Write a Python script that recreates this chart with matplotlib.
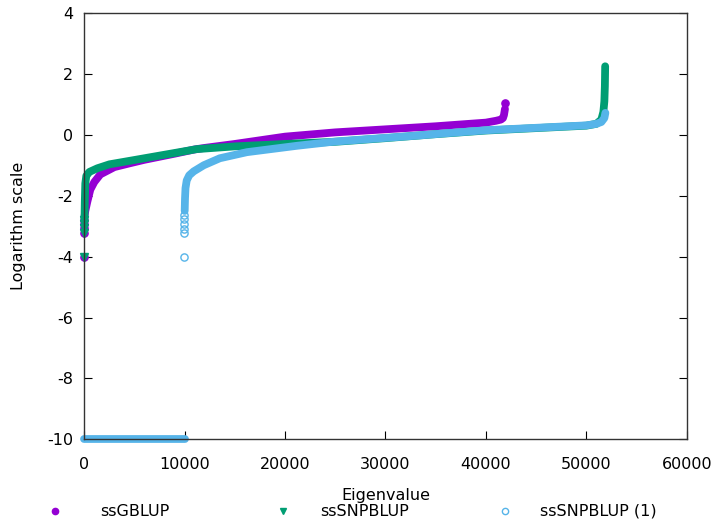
import matplotlib
matplotlib.use('Agg')
import matplotlib.pyplot as plt
from matplotlib.lines import Line2D

# farbet (gnuplot oletukset)
c_gb = '#9400d3'
c_sn = '#009e73'
c_s1 = '#56b4e9'

# ssGBLUP: pienimmat yksittaiset pisteet + jatkuva osa
gb_pts_x = [20, 20, 20, 20, 20, 41950]
gb_pts_y = [-4.0, -3.22, -3.07, -2.92, -2.8, 1.05]
gb_x = [20, 100, 300, 600, 1000, 1600, 3000, 4600, 6000, 9000, 11000, 12000, 15000,
        20000, 25000, 30000, 33000, 35000, 40000, 41000, 41500, 41700, 41800, 41900]
gb_y = [-2.7, -2.5, -2.2, -1.8, -1.55, -1.3, -1.06, -0.93, -0.82, -0.62, -0.48, -0.43, -0.3,
        -0.06, 0.08, 0.18, 0.24, 0.28, 0.4, 0.46, 0.5, 0.55, 0.65, 0.85]

# ssSNPBLUP
sn_pts_x = [20, 20, 20, 20, 20]
sn_pts_y = [-4.0, -3.22, -3.07, -2.92, -2.8]
sn_x = [20, 50, 100, 200, 500, 1300, 2500, 4600, 7900, 11200, 15000, 20000, 25000,
        30000, 35000, 40000, 45000, 50000, 51000, 51500, 51700, 51800, 51850, 51880]
sn_y = [-2.8, -2.2, -1.6, -1.35, -1.22, -1.1, -0.97, -0.85, -0.66, -0.47, -0.38, -0.3, -0.23,
        -0.11, 0.02, 0.14, 0.22, 0.3, 0.36, 0.5, 0.75, 1.1, 1.6, 2.25]

# ssSNPBLUP (1): nollat (-10), yksittaiset pisteet, jatkuva osa
s1_zero_x = [0, 10000]
s1_zero_y = [-10, -10]
s1_pts_x = [9980, 9980, 9980, 9980, 9980, 9980]
s1_pts_y = [-4.0, -3.24, -3.08, -2.93, -2.77, -2.62]
s1_x = [10000, 10030, 10080, 10200, 10450, 10900, 11900, 13500, 16200, 21200, 25000,
        30000, 33000, 36000, 40000, 45000, 50000, 51000, 51500, 51800, 51900]
s1_y = [-2.5, -2.1, -1.75, -1.5, -1.33, -1.2, -1.0, -0.77, -0.57, -0.36, -0.22,
        -0.1, -0.03, 0.05, 0.15, 0.23, 0.31, 0.36, 0.42, 0.55, 0.72]

xtiks = [0, 10000, 20000, 30000, 40000, 50000, 60000]
ytiks = [-10, -8, -6, -4, -2, 0, 2, 4]

plt.rcParams['font.family'] = ['DejaVu Sans']
plt.rcParams['font.size'] = 11.5
plt.rcParams['axes.unicode_minus'] = False

fig = plt.figure(figsize=(7.18, 5.22), dpi=100)
ax = fig.add_axes((0.1174, 0.1584, 0.839, 0.8167))

lw = 5.6
ms = 5.2
viiva = dict(lw=lw, solid_capstyle='round', solid_joinstyle='round', clip_on=False)

ax.plot(gb_x, gb_y, color=c_gb, **viiva)
ax.plot(gb_pts_x, gb_pts_y, 'o', color=c_gb, ms=ms, clip_on=False)
ax.plot(sn_x, sn_y, color=c_sn, **viiva)
ax.plot(sn_pts_x, sn_pts_y, 'v', color=c_sn, ms=ms, clip_on=False)
ax.plot(s1_zero_x, s1_zero_y, color=c_s1, **viiva)
ax.plot(s1_x, s1_y, color=c_s1, **viiva)
ax.plot(s1_pts_x, s1_pts_y, 'o', mfc='none', mec=c_s1, mew=1.0, ms=ms, clip_on=False)

ax.set_xlim(0, 60000)
ax.set_ylim(-10, 4)
ax.set_xticks(xtiks)
ax.set_yticks(ytiks)
ax.tick_params(direction='in', length=5.8, width=0.8, color='black')
ax.tick_params(axis='x', pad=13)
ax.tick_params(axis='y', pad=8, right=True)
for s in ax.spines.values():
    s.set_linewidth(1.0)
    s.set_color('#333333')

ax.set_xlabel('Eigenvalue', labelpad=11)
ax.set_ylabel('Logarithm scale', labelpad=15)

# selite alas, kasin
selite = [('ssGBLUP', 'o', c_gb, c_gb, 55, 100),
          ('ssSNPBLUP', 'v', c_sn, c_sn, 283, 320),
          ('ssSNPBLUP (1)', 'o', 'none', c_s1, 505, 540)]
for nimi, mk, fc, ec, mx, tx in selite:
    fig.add_artist(Line2D([mx / 718], [1 - 511 / 522], transform=fig.transFigure,
                          marker=mk, ls='none', mfc=fc, mec=ec, ms=4.5, mew=1.0))
    fig.text(tx / 718, 1 - 511 / 522, nimi, va='center', ha='left')

fig.savefig('out.png', dpi=100)
